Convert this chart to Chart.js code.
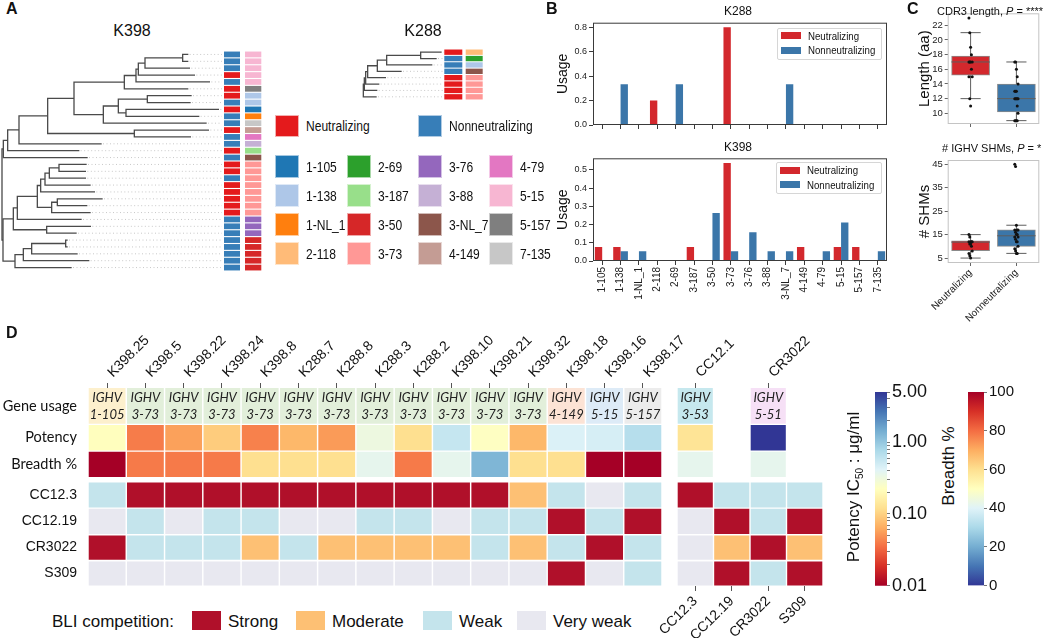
<!DOCTYPE html>
<html>
<head>
<meta charset="utf-8">
<title>Antibody gene usage and competition</title>
<script src="https://cdn.jsdelivr.net/npm/chart.js@4.4.1/dist/chart.umd.min.js"></script>
<style>
  html, body { margin: 0; background: #fff; }
  #page { position: relative; width: 1050px; height: 638px; overflow: hidden; font-family: "Liberation Sans", Arial, sans-serif; color: #111; }
  #page canvas { position: absolute; }
  .t { position: absolute; white-space: nowrap; line-height: 1; }
  .sw { position: absolute; box-sizing: border-box; }
</style>
</head>
<body>
<div id="page"></div>
<script>
// ---- gene segments (panels A, B) ----
const genes = ['1-105', '1-138', '1-NL_1', '2-118', '2-69', '3-187', '3-50', '3-73',
               '3-76', '3-88', '3-NL_7', '4-149', '4-79', '5-15', '5-157', '7-135'];
const geneColors = ['#1f77b4', '#aec7e8', '#ff7f0e', '#ffbb78', '#2ca02c', '#98df8a', '#d62728', '#ff9896',
                    '#9467bd', '#c5b0d5', '#8c564b', '#c49c94', '#e377c2', '#f7b6d2', '#7f7f7f', '#c7c7c7'];

// usage fractions (panel B)
const k288Neut    = [0, 0, 0, 0.2, 0, 0, 0, 0.8, 0, 0, 0, 0, 0, 0, 0, 0];
const k288NonNeut = [0, 0.333, 0, 0, 0.333, 0, 0, 0, 0, 0, 0.333, 0, 0, 0, 0, 0];
const k398Neut    = [0.077, 0.077, 0, 0, 0, 0.077, 0, 0.538, 0, 0, 0, 0.077, 0, 0.077, 0.077, 0];
const k398NonNeut = [0, 0.053, 0.053, 0, 0, 0, 0.263, 0.053, 0.158, 0.053, 0.053, 0, 0.053, 0.211, 0, 0.053];

// trees (panel A): leaf tip depth, merges [childA, childB, depth]
const k398LeafEnd = [565, 565, 570, 585, 630, 565, 575, 572, 657, 598, 620, 627, 573, 305, 238, 263,
                     260, 258, 258, 272, 285, 308, 262, 272, 245, 273, 230, 203, 203, 233, 268, 215];
const k398Merges = [[0, 1, 548], [32, 2, 435], [33, 3, 415], [34, 4, 408], [35, 5, 373], [6, 7, 442],
                    [8, 9, 378], [37, 38, 355], [39, 10, 310], [36, 40, 222], [11, 12, 403], [41, 42, 143],
                    [43, 13, 57], [44, 14, 23], [45, 15, 10], [16, 17, 177], [47, 18, 148], [48, 19, 135],
                    [49, 20, 122], [21, 22, 172], [51, 23, 155], [50, 52, 112], [53, 24, 52], [25, 26, 140],
                    [54, 55, 40], [27, 28, 197], [57, 29, 95], [58, 30, 70], [59, 31, 45], [56, 60, 9], [46, 61, 6]];
const k398Neutralizing = [0, 0, 0, 1, 0, 1, 1, 0, 1, 0, 0, 1, 0, 0, 1, 0, 1, 1, 0, 1, 1, 1, 1, 1, 0, 0, 0, 0, 0, 0, 0, 0];
const k398Genes = ['5-15', '5-15', '5-15', '5-15', '5-15', '5-157', '1-138', '1-138', '1-105', '1-NL_1', '7-135',
                   '4-149', '4-79', '3-88', '3-187', '3-NL_7', '3-73', '3-73', '3-73', '3-73', '3-73', '3-73',
                   '3-73', '3-73', '3-76', '3-76', '3-76', '3-50', '3-50', '3-50', '3-50', '3-50'];
const k288LeafEnd = [425, 410, 397, 305, 258, 238, 232, 230];
const k288Merges = [[0, 1, 362], [8, 2, 260], [9, 3, 232], [10, 4, 203], [11, 5, 197], [12, 6, 193], [13, 7, 190]];
const k288Neutralizing = [1, 0, 0, 0, 1, 1, 1, 1];
const k288Genes = ['2-118', '2-69', '1-138', '3-NL_7', '3-73', '3-73', '3-73', '3-73'];

// box plots (panel C): [low whisker, q1, median, q3, high whisker]
const boxGroups = ['Neutralizing', 'Nonneutralizing'];
const cdr3Box = [[12, 15.2, 17, 17.8, 21], [9, 10.2, 12, 14, 17]];
const cdr3Points = [[23, 21, 19, 18, 17, 17, 17, 17, 16, 15, 15, 12, 11],
                    [17, 17, 16, 15, 14, 13, 13, 13, 12, 12, 12, 12, 12, 11, 10, 9, 9, 9, 9]];
const shmBox = [[5, 8.2, 11.8, 12.4, 15], [7, 10, 14.5, 17, 19]];
const shmPoints = [[15, 14, 12, 12, 12, 12, 11, 11, 10, 8, 7, 6, 5],
                   [45, 44, 19, 17, 17, 17, 16, 15, 15, 14, 14, 13, 12, 12, 10, 9, 8, 7, 7]];

// heatmap (panel D)
const abNames = ['K398.25', 'K398.5', 'K398.22', 'K398.24', 'K398.8', 'K288.7', 'K288.8', 'K288.3',
                 'K288.2', 'K398.10', 'K398.21', 'K398.32', 'K398.18', 'K398.16', 'K398.17'];
const abGenes = ['1-105', '3-73', '3-73', '3-73', '3-73', '3-73', '3-73', '3-73',
                 '3-73', '3-73', '3-73', '3-73', '4-149', '5-15', '5-157'];
const abPotency = [0.22, 0.040, 0.057, 0.094, 0.042, 0.073, 0.054, 0.32, 0.12, 0.57, 0.23, 0.073, 0.44, 0.47, 0.68];
const abBreadth = [100, 78, 78, 78, 60, 60, 60, 42, 78, 42, 22, 60, 60, 100, 100];
const rowLabels = ['Gene usage', 'Potency', 'Breadth %', 'CC12.3', 'CC12.19', 'CR3022', 'S309'];
// competition level: 3 strong, 2 moderate, 1 weak, 0 very weak (rows CC12.3, CC12.19, CR3022, S309)
const abCompetition = [
  [1, 3, 3, 3, 3, 3, 3, 3, 3, 3, 3, 2, 1, 0, 1],
  [0, 1, 0, 1, 1, 0, 0, 1, 1, 0, 1, 1, 3, 1, 3],
  [3, 1, 1, 1, 2, 1, 2, 2, 2, 2, 1, 2, 1, 3, 1],
  [0, 0, 0, 0, 0, 0, 0, 0, 0, 0, 0, 0, 3, 0, 1]
];
const refTopNames = ['CC12.1', '', 'CR3022', ''];
const refBottomNames = ['CC12.3', 'CC12.19', 'CR3022', 'S309'];
const refGenes = ['3-53', null, '5-51', null];
const refPotency = [0.13, null, 5, null];
const refBreadth = [42, null, 42, null];
const refCompetition = [[3, 1, 1, 1], [0, 3, 1, 3], [0, 2, 3, 2], [0, 3, 1, 3]];
const compNames = ['Very weak', 'Weak', 'Moderate', 'Strong'];
const potencyTicks = [0.01, 0.1, 1, 5];
const breadthTicks = [0, 20, 40, 60, 80, 100];

// ---- styles ----
const NEUT = '#e41a1c', NONNEUT = '#377eb8';
const BAR_RED = '#d3282d', BAR_BLUE = '#3b76a9';
const compColors = ['#e8e8f0', '#c4e4ec', '#fdc074', '#b0102a'];
const genePastel = { '1-105': '#fdf0cd', '3-73': '#e2efda', '4-149': '#fce3d5', '5-15': '#ddebf7',
                     '5-157': '#ececec', '3-53': '#c6e8ee', '5-51': '#f6e0f6' };
const RdYlBu = ['#a50026', '#d73027', '#f46d43', '#fdae61', '#fee090', '#ffffbf',
                '#e0f3f8', '#abd9e9', '#74add1', '#4575b4', '#313695'];
// heatmap row bands in px below the top of the grid
const rowBands = [[0, 35.7], [37, 62.4], [63.8, 89], [94.4, 119.4], [120.7, 146], [147.4, 171.7], [173.4, 197.4]];

function hexRgb(h) { return [1, 3, 5].map(i => parseInt(h.substr(i, 2), 16)); }
function cmap(t) {
  t = Math.min(1, Math.max(0, t));
  const p = t * 10, i = Math.min(9, Math.floor(p)), f = p - i;
  const a = hexRgb(RdYlBu[i]), b = hexRgb(RdYlBu[i + 1]);
  return 'rgb(' + a.map((v, k) => Math.round(v + (b[k] - v) * f)).join(',') + ')';
}
const potencyColor = v => cmap((Math.log10(v) + 2) / (Math.log10(5) + 2));
const breadthColor = v => cmap(1 - v / 100);

Chart.defaults.font.family = '"Liberation Sans", Arial, sans-serif';
Chart.defaults.color = '#222';
Chart.defaults.animation = false;
Chart.defaults.responsive = false;
Chart.defaults.events = [];
Chart.defaults.plugins.legend.display = false;
Chart.defaults.plugins.tooltip.enabled = false;

Chart.register({
  id: 'frame',
  defaults: { color: null, width: 1 },
  afterDraw(chart, args, opts) {
    if (!opts.color) return;
    const { ctx, chartArea: a } = chart;
    ctx.save();
    ctx.strokeStyle = opts.color;
    ctx.lineWidth = opts.width;
    ctx.strokeRect(a.left + 0.5, a.top + 0.5, a.width - 1, a.height - 1);
    ctx.restore();
  }
});

const page = document.getElementById('page');

function makeCanvas(left, top, w, h) {
  const c = document.createElement('canvas');
  c.width = w; c.height = h;
  c.style.left = left + 'px'; c.style.top = top + 'px';
  c.style.width = w + 'px'; c.style.height = h + 'px';
  page.appendChild(c);
  return c;
}

// anchor: left | center | right, text vertically centred on y; squeeze narrows the glyphs
function text(html, x, y, css, anchor, squeeze) {
  const d = document.createElement('div');
  d.className = 't';
  d.innerHTML = html;
  const tx = anchor === 'center' ? '-50%' : anchor === 'right' ? '-100%' : '0';
  d.style.cssText += `left:${x}px;top:${y}px;transform-origin:left center;` +
    `transform:translate(${tx},-50%)${squeeze ? ` scaleX(${squeeze})` : ''};` + (css || '');
  page.appendChild(d);
  return d;
}

function swatch(x, y, w, h, color, border) {
  const d = document.createElement('div');
  d.className = 'sw';
  d.style.cssText += `left:${x}px;top:${y}px;width:${w}px;height:${h}px;background:${color};` +
                     (border ? `border:1px solid ${border};` : '');
  page.appendChild(d);
}

function fixed(dim, size) {
  return s => { s[dim] = size; s.paddingLeft = 0; s.paddingRight = 0; s.paddingTop = 0; s.paddingBottom = 0; };
}
function setTicks(values) {
  return s => { s.ticks = values.map(v => ({ value: v })); };
}

// ---------- panel A: trees ----------
function dendrogram(canvas, leafEnd, merges, xMin, xMax, tipX) {
  const pos = leafEnd.map((x, i) => ({ x, y: i }));
  const sets = [];
  const line = { showLine: true, pointRadius: 0, borderColor: '#4a4a4a', borderWidth: 1.3, clip: false };
  merges.forEach(([a, b, h]) => {
    const A = pos[a], B = pos[b];
    sets.push({ ...line, data: [{ x: A.x, y: A.y }, { x: h, y: A.y }, { x: h, y: B.y }, { x: B.x, y: B.y }] });
    pos.push({ x: h, y: (A.y + B.y) / 2 });
  });
  leafEnd.forEach((x, i) => sets.push({
    showLine: true, pointRadius: 0, borderColor: '#c8c8c8', borderWidth: 1, borderDash: [1, 2.5], clip: false,
    data: [{ x: x + 4, y: i }, { x: tipX, y: i }]
  }));
  return new Chart(canvas, {
    type: 'scatter',
    data: { datasets: sets },
    options: {
      layout: { padding: 0 },
      scales: {
        x: { type: 'linear', min: xMin, max: xMax, display: false },
        y: { type: 'linear', min: -0.5, max: leafEnd.length - 0.5, reverse: true, display: false }
      }
    }
  });
}

function annotation(canvas, neut, geneList, cols, width) {
  return new Chart(canvas, {
    type: 'bar',
    data: {
      labels: neut.map((_, i) => i),
      datasets: [
        { data: neut.map(() => cols[0]), backgroundColor: neut.map(v => v ? NEUT : NONNEUT) },
        { data: geneList.map(() => cols[1]), backgroundColor: geneList.map(g => geneColors[genes.indexOf(g)]) }
      ]
    },
    options: {
      indexAxis: 'y',
      layout: { padding: 0 },
      datasets: { bar: { grouped: false, categoryPercentage: 1, barPercentage: 0.84, borderWidth: 0 } },
      scales: { x: { type: 'linear', min: 0, max: width, display: false }, y: { display: false } }
    }
  });
}

dendrogram(makeCanvas(0, 51, 223, 220), k398LeafEnd, k398Merges, 0, 669, 666);
annotation(makeCanvas(222, 51, 42, 220), k398Neutralizing, k398Genes, [[2, 18], [23, 39.3]], 42);
dendrogram(makeCanvas(360, 49, 84, 51), k288LeafEnd, k288Merges, 180, 432, 430);
annotation(makeCanvas(442, 49, 44, 51), k288Neutralizing, k288Genes, [[2.3, 20.3], [23.7, 40.7]], 44);

text('K398', 132, 31, 'font-size:16px;', 'center');
text('K288', 423, 31, 'font-size:16px;', 'center');

swatch(275, 115, 24, 22, NEUT, '#f3b0b0');
text('Neutralizing', 306, 126, 'font-size:14px;', 'left', 0.86);
swatch(418, 115, 24, 22, NONNEUT, '#b0cbe3');
text('Nonneutralizing', 449, 126, 'font-size:14px;', 'left', 0.86);
const legCols = [275, 347, 418, 489], legRows = [155, 184, 213, 242];
genes.forEach((g, i) => {
  const x = legCols[Math.floor(i / 4)], y = legRows[i % 4];
  swatch(x, y, 24, 23, geneColors[i], 'rgba(255,255,255,0.6)');
  text(g, x + 31, y + 12, 'font-size:14px;', 'left', 0.86);
});

// ---------- panel B: usage bars ----------
function usageChart(canvas, neut, nonNeut, yMax, yTicks, showNames, pad, xHeight) {
  return new Chart(canvas, {
    type: 'bar',
    data: {
      labels: genes,
      datasets: [
        { label: 'Neutralizing', data: neut, backgroundColor: BAR_RED },
        { label: 'Nonneutralizing', data: nonNeut, backgroundColor: BAR_BLUE }
      ]
    },
    options: {
      layout: { padding: pad },
      datasets: { bar: { categoryPercentage: 0.8, barPercentage: 1, borderWidth: 0 } },
      plugins: { frame: { color: '#3a3a3a' } },
      scales: {
        x: {
          offset: true,
          grid: { offset: false, drawOnChartArea: false, tickLength: 4, color: '#3a3a3a' },
          border: { display: false },
          ticks: { display: showNames, autoSkip: false, minRotation: 90, maxRotation: 90, padding: 2,
                   font: { size: 10 }, color: '#222' },
          afterFit: fixed('height', xHeight)
        },
        y: {
          min: 0, max: yMax,
          afterBuildTicks: setTicks(yTicks),
          grid: { drawOnChartArea: false, tickLength: 4, color: '#3a3a3a' },
          border: { display: false },
          ticks: { font: { size: 9 }, padding: 2, color: '#222', callback: v => v.toFixed(1) },
          title: { display: true, text: 'Usage', font: { size: 14 }, color: '#111', padding: { top: 5, bottom: 0 } },
          afterFit: fixed('width', 43)
        }
      }
    }
  });
}
usageChart(makeCanvas(550, 14, 345, 117), k288Neut, k288NonNeut, 0.838, [0, 0.2, 0.4, 0.6, 0.8], false,
           { top: 8.7, right: 8, left: 0, bottom: 0 }, 6);
usageChart(makeCanvas(550, 150, 345, 161), k398Neut, k398NonNeut, 0.564, [0, 0.1, 0.2, 0.3, 0.4, 0.5], true,
           { top: 8.3, right: 8, left: 0, bottom: 0 }, 50);

text('K288', 738, 11, 'font-size:12px;', 'center');
text('K398', 738, 147, 'font-size:12px;', 'center');
function barLegend(left, top, w, h) {
  const d = document.createElement('div');
  d.className = 'sw';
  d.style.cssText += `left:${left}px;top:${top}px;width:${w}px;height:${h}px;border:1px solid #d6d6d6;border-radius:2px;background:rgba(255,255,255,0.85);`;
  page.appendChild(d);
  [['Neutralizing', BAR_RED], ['Nonneutralizing', BAR_BLUE]].forEach(([name, col], i) => {
    const cy = top + 8 + i * 14.5;
    swatch(left + 4, cy - 3.5, 20, 7, col);
    text(name, left + 31, cy, 'font-size:11px;', 'left', 0.88);
  });
}
barLegend(777, 27.5, 105, 32.5);
barLegend(776, 162, 106, 32);

// ---------- panel C: box plots ----------
function boxChart(canvas, stats, points, yMin, yMax, yTicks, yTitle, showNames, pad, xHeight) {
  const sets = [{
    type: 'bar', order: 3,
    data: stats.map((s, g) => ({ x: g, y: [s[1], s[3]] })),
    backgroundColor: [BAR_RED, BAR_BLUE], borderColor: '#8a8a8a', borderWidth: 1, borderSkipped: false,
    barThickness: 38
  }];
  const seg = pts => ({ type: 'scatter', order: 2, showLine: true, data: pts, borderColor: '#5e5e5e',
                        borderWidth: 1, pointRadius: 0 });
  stats.forEach((s, g) => {
    sets.push(seg([{ x: g, y: s[0] }, { x: g, y: s[1] }]));
    sets.push(seg([{ x: g, y: s[3] }, { x: g, y: s[4] }]));
    sets.push(seg([{ x: g - 0.22, y: s[0] }, { x: g + 0.22, y: s[0] }]));
    sets.push(seg([{ x: g - 0.22, y: s[4] }, { x: g + 0.22, y: s[4] }]));
    sets.push(seg([{ x: g - 0.42, y: s[2] }, { x: g + 0.42, y: s[2] }]));
  });
  points.forEach((vals, g) => sets.push({
    type: 'scatter', order: 0,
    data: vals.map((v, i) => ({ x: g + ((i % 5) - 2) * 0.018, y: v })),
    pointRadius: 1.5, pointBackgroundColor: '#111', pointBorderWidth: 0
  }));
  return new Chart(canvas, {
    type: 'bar',
    data: { datasets: sets },
    options: {
      layout: { padding: pad },
      plugins: { frame: { color: '#c4c4c4' } },
      scales: {
        x: {
          type: 'linear', min: -0.5, max: 1.5, offset: false,
          afterBuildTicks: setTicks([0, 1]),
          grid: { offset: false, drawOnChartArea: false, tickLength: 3, color: '#666' },
          border: { display: false },
          ticks: { display: showNames, minRotation: 45, maxRotation: 45, padding: 1, font: { size: 10 }, color: '#222',
                   callback: v => boxGroups[v] },
          afterFit: fixed('height', xHeight)
        },
        y: {
          min: yMin, max: yMax,
          afterBuildTicks: setTicks(yTicks),
          grid: { drawOnChartArea: false, tickLength: 3, color: '#666' },
          border: { display: false },
          ticks: { font: { size: 9.5 }, padding: 2, color: '#222' },
          title: { display: true, text: yTitle, font: { size: 15 }, color: '#111', padding: { top: 16, bottom: 0 } },
          afterFit: fixed('width', 47.7)
        }
      }
    }
  });
}
boxChart(makeCanvas(900, 5, 147, 125), cdr3Box, cdr3Points, 8.54, 23.64, [10, 12, 14, 16, 18, 20, 22],
         'Length (aa)', false, { top: 8.3, right: 7.7, left: 0, bottom: 0 }, 6);
boxChart(makeCanvas(900, 150, 147, 173), shmBox, shmPoints, 2.9, 46.8, [5, 10, 15, 20, 25, 30, 35, 40, 45],
         '# SHMs', true, { top: 10, right: 7.7, left: 0, bottom: 0 }, 60);
text('CDR3 length, <i>P</i> = ****', 937, 11, 'font-size:11px;', 'left');
text('# IGHV SHMs, <i>P</i> = *', 942, 148, 'font-size:11px;', 'left');

// ---------- panel D: heatmap ----------
function geneText(list) {
  return {
    id: 'geneText',
    afterDatasetsDraw(chart) {
      const { ctx, scales: { x, y } } = chart;
      const yc = (y.getPixelForValue(rowBands[0][0]) + y.getPixelForValue(rowBands[0][1])) / 2;
      ctx.save();
      ctx.font = 'italic 13px Lato, "Open Sans", sans-serif';
      ctx.fillStyle = '#222';
      ctx.textAlign = 'center';
      ctx.textBaseline = 'middle';
      list.forEach((g, i) => {
        if (!g) return;
        const xc = x.getPixelForValue(i);
        ctx.fillText('IGHV', xc, yc - 8);
        ctx.fillText(g, xc, yc + 9);
      });
      ctx.restore();
    }
  };
}

function heatmap(canvas, cfg) {
  const band = (arr, r) => arr.map(v => v === null ? null : rowBands[r]);
  const datasets = [
    { data: band(cfg.genes, 0), backgroundColor: cfg.genes.map(g => g ? genePastel[g] : 'transparent') },
    { data: band(cfg.potency, 1), backgroundColor: cfg.potency.map(v => v === null ? 'transparent' : potencyColor(v)) },
    { data: band(cfg.breadth, 2), backgroundColor: cfg.breadth.map(v => v === null ? 'transparent' : breadthColor(v)) },
    ...cfg.comp.map((row, k) => ({ data: row.map(() => rowBands[3 + k]), backgroundColor: row.map(l => compColors[l]) }))
  ];
  const tickAxis = (labels, pos, h, shift) => ({
    type: 'category', position: pos, labels, offset: true,
    grid: { offset: false, drawOnChartArea: false, tickLength: 5,
            tickColor: c => labels[c.index] ? '#555' : 'rgba(0,0,0,0)' },
    border: { display: false },
    ticks: { autoSkip: false, minRotation: 45, maxRotation: 45, padding: 2, labelOffset: shift,
             font: { size: 14 }, color: '#111' },
    afterFit: fixed('height', h)
  });
  const scales = {
    x: tickAxis(cfg.top, 'top', 70, 15),
    y: {
      type: 'linear', min: 0, max: 198, reverse: true, display: cfg.showY,
      afterBuildTicks: setTicks(rowBands.map(b => (b[0] + b[1]) / 2)),
      grid: { display: false }, border: { display: false },
      ticks: { autoSkip: false, padding: 3, color: '#111', callback: (v, i) => rowLabels[i],
               font: c => c.index < 3 ? { family: 'Lato, "Open Sans", sans-serif', size: 14.5 } : { size: 14 } }
    }
  };
  if (cfg.showY) scales.y.afterFit = fixed('width', 88);
  if (cfg.bottom) scales.xb = tickAxis(cfg.bottom, 'bottom', 52, 0);
  return new Chart(canvas, {
    type: 'bar',
    data: { labels: cfg.top, datasets },
    options: {
      layout: { padding: cfg.pad },
      datasets: { bar: { grouped: false, categoryPercentage: 1, barPercentage: 0.962, borderWidth: 0 } },
      scales
    },
    plugins: [geneText(cfg.genes)]
  });
}

heatmap(makeCanvas(0, 318, 700, 270), {
  top: abNames, genes: abGenes, potency: abPotency, breadth: abBreadth, comp: abCompetition,
  showY: true, pad: { left: 0, top: 0, right: 38, bottom: 2 }
});
heatmap(makeCanvas(637, 318, 206, 320), {
  top: refTopNames, bottom: refBottomNames, genes: refGenes, potency: refPotency, breadth: refBreadth,
  comp: refCompetition, showY: false, pad: { left: 40, top: 0, right: 20, bottom: 0 }
});

// colour bars
const potencyMinor = [];
[0.01, 0.1, 1].forEach(d => { for (let k = 1; k <= 9; k++) { const v = +(d * k).toPrecision(3); if (v <= 5) potencyMinor.push(v); } });
function colorbar(canvas, yScale, stops, axisW) {
  return new Chart(canvas, {
    type: 'bar',
    data: {
      labels: [''],
      datasets: [{
        data: [[yScale.min, yScale.max]],
        barPercentage: 1, categoryPercentage: 1, borderWidth: 0,
        backgroundColor: c => {
          const a = c.chart.chartArea;
          if (!a) return null;
          const g = c.chart.ctx.createLinearGradient(0, a.bottom, 0, a.top);
          stops.forEach((col, i) => g.addColorStop(i / (stops.length - 1), col));
          return g;
        }
      }]
    },
    options: {
      layout: { padding: { top: 12, bottom: 12.3, left: 0, right: 0 } },
      scales: {
        x: { display: false },
        y: Object.assign({
          position: 'right',
          grid: { drawOnChartArea: false, tickLength: 3, color: '#777' },
          border: { display: false },
          afterFit: fixed('width', axisW)
        }, yScale)
      }
    }
  });
}
colorbar(makeCanvas(875, 380, 62, 218), {
  type: 'logarithmic', min: 0.01, max: 5,
  afterBuildTicks: setTicks(potencyMinor),
  ticks: { padding: 2, font: { size: 18 }, color: '#111', autoSkip: false,
           callback: v => potencyTicks.some(t => Math.abs(t - v) < 1e-9) ? v.toFixed(2) : '' }
}, RdYlBu, 50);
colorbar(makeCanvas(968, 380, 50, 218), {
  type: 'linear', min: 0, max: 100,
  afterBuildTicks: setTicks(breadthTicks),
  ticks: { padding: 2, font: { size: 15 }, color: '#111' }
}, RdYlBu.slice().reverse(), 34);

text('Potency IC<sub style="font-size:10px">50</sub> : μg/ml', 855, 487,
     'font-size:17px;transform-origin:center;transform:translate(-50%,-50%) rotate(-90deg);', 'center');
text('Breadth %', 948, 466, 'font-size:17px;transform-origin:center;transform:translate(-50%,-50%) rotate(-90deg);', 'center');

// BLI legend
text('BLI competition:', 52, 621, 'font-size:17px;', 'left');
const bliX = [192, 296, 423, 517];
[3, 2, 1, 0].forEach((lvl, i) => {
  swatch(bliX[i], 611, 29, 19, compColors[lvl]);
  text(compNames[lvl], bliX[i] + 36, 621, 'font-size:17px;', 'left');
});

// panel letters
text('A', 6, 9, 'font-size:16px;font-weight:bold;', 'left');
text('B', 546, 9, 'font-size:16px;font-weight:bold;', 'left');
text('C', 907, 9, 'font-size:16px;font-weight:bold;', 'left');
text('D', 6, 333, 'font-size:16px;font-weight:bold;', 'left');
</script>
</body>
</html>
